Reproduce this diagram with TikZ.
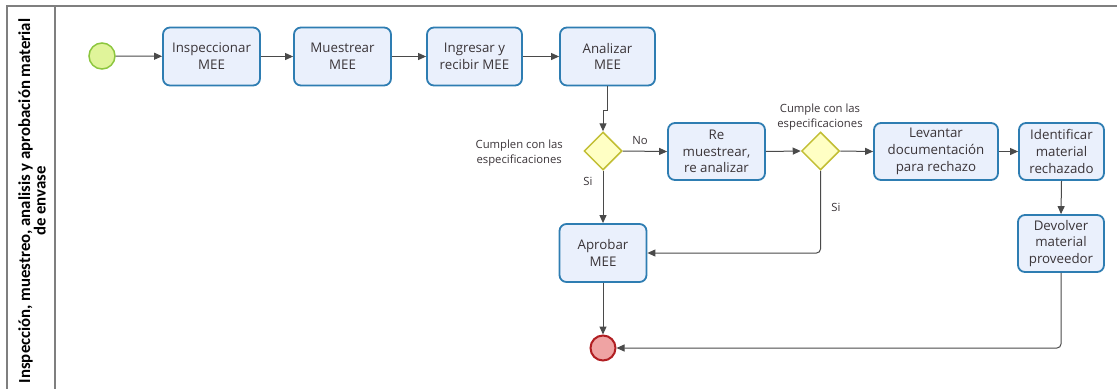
\documentclass[tikz,border=0pt]{standalone}
\usepackage{fontspec}
\setmainfont{Open Sans}
\newfontfamily\headfont{Carlito}
\usetikzlibrary{arrows.meta,shapes.geometric}

\definecolor{taskfill}{HTML}{EAF0FC}
\definecolor{taskline}{HTML}{2E7DB2}
\definecolor{gwfill}{HTML}{FFFFC4}
\definecolor{gwline}{HTML}{C2BE34}
\definecolor{startfill}{HTML}{E0F49A}
\definecolor{startline}{HTML}{8CC63E}
\definecolor{endfill}{HTML}{EFA3A3}
\definecolor{endline}{HTML}{B11E22}
\definecolor{flow}{HTML}{4A4A4A}
\definecolor{txt}{HTML}{3A3438}
\definecolor{pool}{HTML}{7F7F7F}

\begin{document}
\begin{tikzpicture}[x=1pt,y=-1pt,
  task/.style={draw=taskline, fill=taskfill, line width=1.8pt, rounded corners=7pt,
    minimum width=97pt, minimum height=58pt, align=center, text=txt, inner sep=1pt,
    font=\fontsize{13.3}{16.8}\selectfont},
  gateway/.style={diamond, draw=gwline, fill=gwfill, line width=1.5pt,
    minimum width=38pt, minimum height=38pt, inner sep=0pt},
  startev/.style={circle, draw=startline, fill=startfill, line width=1.5pt,
    minimum size=26pt, inner sep=0pt},
  endev/.style={circle, draw=endline, fill=endfill, line width=2pt,
    minimum size=25pt, inner sep=0pt},
  flowline/.style={draw=flow, line width=1pt, -{Triangle[length=8pt,width=7pt]},
    rounded corners=4pt},
  lbl/.style={font=\fontsize{11.3}{14.5}\selectfont, text=txt, align=center, inner sep=0pt},
  lane/.style={draw=pool, line width=1.3pt}
]
\useasboundingbox (0,0) rectangle (1117,389);

% pool frame and lane header
\draw[lane] (1117,6) -- (7,6) -- (7,389);
\draw[lane] (55,6) -- (55,389);
\node[rotate=90, align=center, text=black, inner sep=0pt,
  font=\headfont\bfseries\fontsize{16.8}{14}\selectfont] (lanehead) at (32,201)
  {Inspección, muestreo, analisis y aprobación material\\de envase};

% events, tasks and gateways
\node[startev] (start) at (102,56) {};
\node[task] (insp) at (211.5,56.5) {Inspeccionar\\MEE};
\node[task] (mues) at (342.5,56.5) {Muestrear\\MEE};
\node[task, minimum width=95pt] (ingr) at (474.5,56.5) {Ingresar y\\recibir MEE};
\node[task, minimum width=95pt] (anal) at (607.5,56.5) {Analizar\\MEE};
\node[gateway] (g1) at (603,151) {};
\node[task, minimum height=57pt] (remu) at (716.5,151.5) {Re\\muestrear,\\re analizar};
\node[gateway] (g2) at (820.5,151) {};
\node[task, minimum width=124pt, minimum height=57pt] (lev) at (936,151.5)
  {Levantar\\documentación\\para rechazo};
\node[task, minimum width=85pt, minimum height=57pt] (iden) at (1061.5,151.5)
  {Identificar\\material\\rechazado};
\node[task, minimum width=86pt, minimum height=57pt] (dev) at (1061,243.5)
  {Devolver\\material\\proveedor};
\node[task, minimum width=87pt] (apr) at (603,253) {Aprobar\\MEE};
\node[endev] (end) at (603,348) {};

% gateway and flow labels
\node[lbl, anchor=east] (q1) at (563,153) {Cumplen con las\\especificaciones};
\node[lbl] (q2) at (820,117) {Cumple con las\\especificaciones};
\node[lbl] (no1) at (640,141) {No};
\node[lbl] (si1) at (588,181) {Si};
\node[lbl] (si2) at (836,207) {Si};

% sequence flows
\draw[flowline] (start) -- (insp);
\draw[flowline] (insp) -- (mues);
\draw[flowline] (mues) -- (ingr);
\draw[flowline] (ingr) -- (anal);
\draw[flowline, rounded corners=0pt] (anal.south) -- ++(0,24) -| (g1.north);
\draw[flowline] (g1.east) -- (remu.west);
\draw[flowline] (remu.east) -- (g2.west);
\draw[flowline] (g2.east) -- (lev.west);
\draw[flowline] (lev.east) -- (iden.west);
\draw[flowline] (iden.south) -- (dev.north);
\draw[flowline] (g1.south) -- (apr.north);
\draw[flowline] (g2.south) |- (apr.east);
\draw[flowline] (apr.south) -- (end.north);
\draw[flowline] (dev.south) |- (end.east);
\end{tikzpicture}
\end{document}
